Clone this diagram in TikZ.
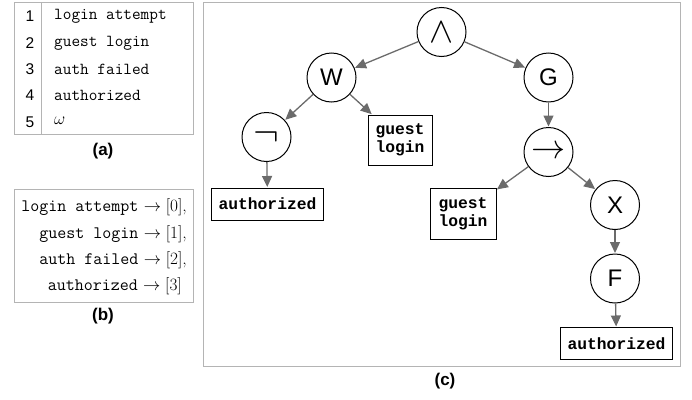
\documentclass[tikz,border=0pt]{standalone}
\usepackage{fontspec}
\setsansfont{Liberation Sans}
\newfontfamily\courfont{Liberation Mono}
\usetikzlibrary{arrows.meta}
\definecolor{framegray}{HTML}{B4B4B4}
\definecolor{edgegray}{HTML}{6B6B6B}
% large logic symbols, scaled from the biggest math size
\newcommand{\bigsym}[2][1.37]{\scalebox{#1}{\fontsize{24.88}{26}\selectfont$#2$}}
\tikzset{
  panel/.style={draw=framegray, line width=0.9pt},
  caption/.style={font=\fontsize{17}{19}\selectfont\sffamily\bfseries, inner sep=0pt},
  rowno/.style={font=\fontsize{15.5}{17}\selectfont\sffamily, inner sep=0pt},
  rowtxt/.style={font=\fontsize{16.8}{18}\selectfont\ttfamily, inner sep=0pt, anchor=west},
  maptxt/.style={font=\fontsize{17.5}{19}\selectfont, inner sep=0pt, anchor=east},
  op/.style={circle, draw, line width=1pt, minimum size=49pt, inner sep=0pt},
  opsym/.style={op},
  oplet/.style={op, font=\fontsize{24}{26}\selectfont\sffamily},
  atom/.style={draw, line width=1pt, inner sep=0pt, align=center,
    font=\fontsize{16.3}{18.5}\selectfont\courfont\bfseries},
  edge/.style={draw=edgegray, line width=1.3pt,
    -{Triangle[length=11pt,width=10pt]}, shorten >=0.5pt},
}
\begin{document}
\begin{tikzpicture}[x=1pt, y=-1pt]
  \useasboundingbox (0,0) rectangle (692,399);

  % (a) proposition table
  \draw[panel] (14,2) rectangle (193,134);
  \draw[panel] (41,2) -- (41,134);
  \node[rowno] (n1) at (30,16) {1};
  \node[rowno] (n2) at (30,43) {2};
  \node[rowno] (n3) at (30,69) {3};
  \node[rowno] (n4) at (30,95) {4};
  \node[rowno] (n5) at (30,122) {5};
  \node[rowtxt] (t1) at (54,16) {login attempt};
  \node[rowtxt] (t2) at (54,43) {guest login};
  \node[rowtxt] (t3) at (54,69) {auth failed};
  \node[rowtxt] (t4) at (54,95) {authorized};
  \node[rowtxt] (t5) at (54,121) {$\omega$};
  \node[caption] (capa) at (103,151) {(a)};

  % (b) index mapping
  \draw[panel] (14,189) rectangle (193,302);
  \node[maptxt] (m1) at (187,207) {\texttt{login attempt} $\rightarrow [0]$,};
  \node[maptxt] (m2) at (187,234) {\texttt{guest login} $\rightarrow [1]$,};
  \node[maptxt] (m3) at (187,260) {\texttt{auth failed} $\rightarrow [2]$,};
  \node[maptxt] (m4) at (182,286) {\texttt{authorized} $\rightarrow [3]$};
  \node[caption] (capb) at (103,316) {(b)};

  % (c) formula tree
  \draw[panel] (203,2) rectangle (680,366);
  \node[opsym] (and) at (441.5,32) {\bigsym[1.45]{\wedge}};
  \node[oplet] (w) at (331.5,77.5) {W};
  \node[oplet] (g) at (548.5,77.5) {G};
  \node[opsym] (neg) at (266.5,137) {\bigsym[1.55]{\neg}};
  \node[atom, minimum width=64pt, minimum height=50pt] (gl1) at (400,140) {guest\\login};
  \node[opsym] (imp) at (548.5,152) {\bigsym{\rightarrow}};
  \node[atom, minimum width=112pt, minimum height=32pt] (au1) at (267.5,204) {authorized};
  \node[atom, minimum width=66pt, minimum height=51pt] (gl2) at (463,214) {guest\\login};
  \node[oplet] (x) at (615,205) {X};
  \node[oplet] (f) at (615,278.5) {F};
  \node[atom, minimum width=112pt, minimum height=32pt] (au2) at (616.5,343.5) {authorized};
  \node[caption] (capc) at (445,381) {(c)};

  \draw[edge] (and) -- (w);
  \draw[edge] (and) -- (g);
  \draw[edge] (w) -- (neg);
  \draw[edge] (w) -- (gl1);
  \draw[edge] (neg) -- (au1);
  \draw[edge] (g) -- (imp);
  \draw[edge] (imp) -- (gl2);
  \draw[edge] (imp) -- (x);
  \draw[edge] (x) -- (f);
  \draw[edge] (f) -- (au2);
\end{tikzpicture}
\end{document}
